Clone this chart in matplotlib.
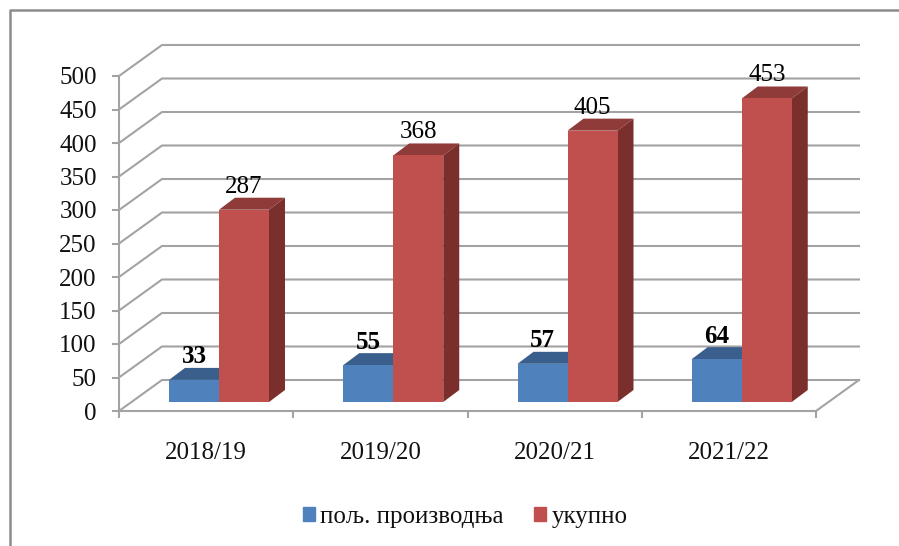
import matplotlib.pyplot as plt
from matplotlib.lines import Line2D
from matplotlib.patches import Patch, Polygon

years = ['2018/19', '2019/20', '2020/21', '2021/22']
prod = [33, 55, 57, 64]
total = [287, 368, 405, 453]
series_names = ['пољ. производња', 'укупно']
y_ticks = list(range(0, 501, 50))

W, H = 899, 546
L, R, B, T = 119, 816, 411, 76
px_x = 4 / (R - L)      # one pixel in x data units
px_y = 500 / (B - T)    # one pixel in y data units

# 3d look: back wall offset, bar offset from the front plane, bar depth
wall_dx, wall_dy = 43 * px_x, 31 * px_y
shift_dx, shift_dy = 12 * px_x, 9 * px_y
bar_dx, bar_dy = 16 * px_x, 12 * px_y
bar_w = 50 * px_x

GRAY = '#a3a3a3'
BLUE, BLUE_TOP = '#4f81bd', '#3a5f8c'
RED, RED_TOP, RED_SIDE = '#c0504d', '#8f3b39', '#7b2f2d'

plt.rcParams['font.family'] = ['Liberation Serif']

fig = plt.figure(figsize=(W / 100, H / 100), dpi=100)
ax = fig.add_axes([L / W, (H - B) / H, (R - L) / W, (B - T) / H])
ax.set_xlim(0, 4)
ax.set_ylim(0, 500)
ax.patch.set_visible(False)

# outer frame
fig.add_artist(Line2D([9.5 / W, 9.5 / W, 1], [0, 1 - 10 / H, 1 - 10 / H], color='#8c8c8c', lw=1.8))

# wall and floor lines
for v in y_ticks:
    ax.plot([0, wall_dx, 4 + wall_dx], [v, v + wall_dy, v + wall_dy], color=GRAY, lw=1.5, clip_on=False, zorder=1)
ax.plot([4, 4 + wall_dx], [0, wall_dy], color=GRAY, lw=1.5, clip_on=False, zorder=1)


def draw_bar(x, v, face, top, side):
    x0 = x + shift_dx
    y0 = shift_dy
    x1 = x0 + bar_w
    y1 = y0 + v
    ax.add_patch(Polygon([(x0, y1), (x1, y1), (x1 + bar_dx, y1 + bar_dy), (x0 + bar_dx, y1 + bar_dy)],
                         facecolor=top, edgecolor='none', clip_on=False, zorder=3))
    ax.add_patch(Polygon([(x1, y0), (x1 + bar_dx, y0 + bar_dy), (x1 + bar_dx, y1 + bar_dy), (x1, y1)],
                         facecolor=side, edgecolor='none', clip_on=False, zorder=3))
    ax.bar(x0, v, bar_w, bottom=y0, align='edge', color=face, clip_on=False, zorder=4)


for i in range(len(years)):
    start = i + 38 * px_x
    draw_bar(start, prod[i], BLUE, BLUE_TOP, BLUE_TOP)
    draw_bar(start + bar_w, total[i], RED, RED_TOP, RED_SIDE)
    ax.text(start + shift_dx + bar_w / 2, prod[i] + shift_dy + 23 * px_y, str(prod[i]), ha='center', va='center',
            fontsize=18, fontweight='bold', zorder=5)
    ax.text(start + shift_dx + bar_w * 1.5, total[i] + shift_dy + 23 * px_y, str(total[i]), ha='center', va='center',
            fontsize=18, zorder=5)

for s in ['top', 'right']:
    ax.spines[s].set_visible(False)
for s in ['left', 'bottom']:
    ax.spines[s].set_color(GRAY)
    ax.spines[s].set_linewidth(1.5)
    ax.spines[s].set_zorder(2)

ax.set_yticks(y_ticks)
ax.set_xticks(range(5))
ax.set_xticklabels([])
ax.set_xticks([i + 0.5 for i in range(4)], years, minor=True)
ax.tick_params(axis='y', length=5, width=1.5, color=GRAY, pad=11, labelsize=18, labelcolor='#111111')
ax.tick_params(axis='x', which='major', length=5, width=1.5, color=GRAY)
ax.tick_params(axis='x', which='minor', length=0, pad=22, labelsize=18, labelcolor='#111111')

handles = [Patch(color=BLUE, label=series_names[0]), Patch(color=RED, label=series_names[1])]
fig.legend(handles=handles, loc='center', bbox_to_anchor=(465 / W, 1 - 517 / H), ncol=2, frameon=False,
           fontsize=18, handlelength=0.5, handleheight=0.5, handletextpad=0.2, columnspacing=1.2,
           borderpad=0, labelcolor='#111111')

fig.savefig('out.png', dpi=100)
